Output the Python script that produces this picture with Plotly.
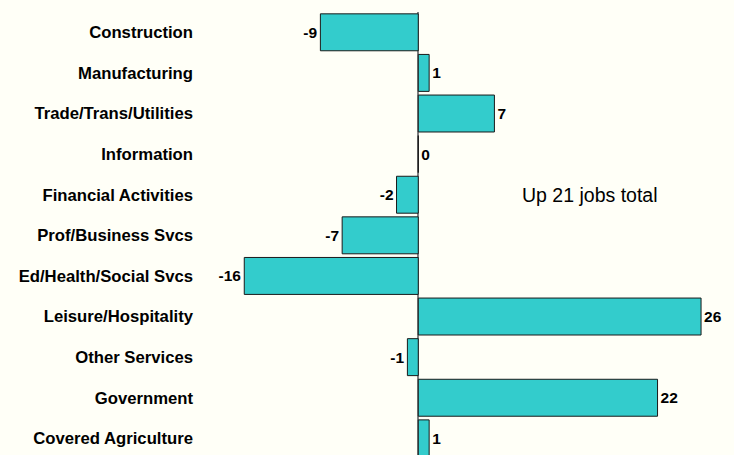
import plotly.graph_objects as go

categories = [
    "Construction", "Manufacturing", "Trade/Trans/Utilities", "Information",
    "Financial Activities", "Prof/Business Svcs", "Ed/Health/Social Svcs",
    "Leisure/Hospitality", "Other Services", "Government", "Covered Agriculture",
]
job_change = [-9, 1, 7, 0, -2, -7, -16, 26, -1, 22, 1]
note_text = "Up 21 jobs total"

BG = "#FFFFF7"
FONT = "Liberation Sans, Arial, sans-serif"

fig = go.Figure()
fig.add_trace(go.Bar(
    x=job_change,
    y=categories,
    orientation="h",
    marker=dict(color="#33CCCC", line=dict(color="#1a1a1a", width=1)),
    text=[str(v) for v in job_change],
    textposition="outside",
    textfont=dict(family=FONT, size=15.5, color="#000000", weight="bold"),
    constraintext="none",
    cliponaxis=False,
    hoverinfo="skip",
))

# note placed next to the Financial Activities row
fig.add_annotation(
    x=15.8, y=categories[4], xref="x", yref="y",
    text=note_text, showarrow=False,
    xanchor="center", yanchor="middle",
    font=dict(family=FONT, size=19.5, color="#000000"),
)

fig.update_layout(
    width=734,
    height=455,
    paper_bgcolor=BG,
    plot_bgcolor=BG,
    showlegend=False,
    bargap=0.09,
    margin=dict(l=200, r=0, t=12, b=0),
    xaxis=dict(
        range=[-20.07, 29.03],
        showgrid=False,
        showticklabels=False,
        ticks="",
        zeroline=True,
        zerolinecolor="#808080",
        zerolinewidth=2,
        showline=False,
    ),
    yaxis=dict(
        range=[10.41, -0.5],
        showgrid=False,
        ticks="",
        ticklabelstandoff=6,
        tickfont=dict(family=FONT, size=16.7, color="#000000", weight="bold"),
        showline=False,
        zeroline=False,
    ),
    font=dict(family=FONT),
)

# drop the default page margin so the figure fills the window
fig.write_html(
    "out.html",
    config={"displayModeBar": False},
    post_script="document.body.style.margin='0';document.body.style.background='%s';" % BG,
)
